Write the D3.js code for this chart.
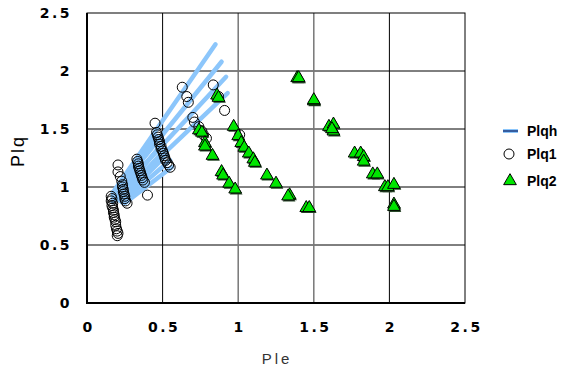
<!DOCTYPE html>
<html>
<head>
<meta charset="utf-8">
<script src="https://d3js.org/d3.v7.min.js"></script>
<style>
  body { margin: 0; background: #fff; }
  .tick-label { font-family: "DejaVu Sans", sans-serif; font-weight: bold; font-size: 14px; letter-spacing: 2.5px; fill: #000; }
  .legend-label { font-family: "Liberation Sans", Arial, sans-serif; font-weight: bold; font-size: 14px; fill: #000; }
</style>
</head>
<body>
<div id="chart"></div>
<script>
// axis ticks
var xTicks = [0, 0.5, 1, 1.5, 2, 2.5];
var yTicks = [0, 0.5, 1, 1.5, 2, 2.5];

// Plqh: fan of lines, each [start, end]
var plqhLines = [
  [[0.17, 0.95], [0.85, 2.23]],
  [[0.17, 0.92], [0.89, 2.08]],
  [[0.17, 0.90], [0.92, 1.95]],
  [[0.17, 0.87], [0.93, 1.81]],
  [[0.18, 0.93], [0.46, 1.44]],
  [[0.20, 0.90], [0.50, 1.38]],
  [[0.21, 0.89], [0.52, 1.33]],
  [[0.22, 0.88], [0.53, 1.28]],
  [[0.23, 0.87], [0.55, 1.23]],
  [[0.25, 0.86], [0.56, 1.17]]
];

// Plq1 circles
var plq1X = [0.16,0.165,0.16,0.17,0.165,0.17,0.175,0.175,0.18,0.18,0.185,0.19,0.19,0.195,0.2,0.205,0.2,
  0.205,0.205,0.22,0.23,0.235,0.235,0.24,0.24,0.245,0.25,0.25,0.255,0.265,
  0.33,0.335,0.34,0.34,0.345,0.35,0.355,0.36,0.365,0.37,0.38,0.40,
  0.45,0.46,0.465,0.47,0.475,0.48,0.48,0.49,0.49,0.5,0.505,0.51,0.515,0.52,0.53,0.54,0.55,
  0.63,0.66,0.67,0.70,0.71,0.74,0.76,0.77,0.79,0.835,0.87,0.91,1.01];
var plq1Y = [0.92,0.90,0.88,0.86,0.84,0.82,0.80,0.78,0.76,0.74,0.72,0.70,0.67,0.64,0.62,0.60,0.58,
  1.19,1.13,1.09,1.05,1.02,1.0,0.98,0.96,0.94,0.92,0.90,0.88,0.86,
  1.24,1.22,1.2,1.18,1.16,1.14,1.12,1.10,1.08,1.06,1.04,0.93,
  1.55,1.47,1.45,1.43,1.41,1.39,1.37,1.35,1.33,1.31,1.29,1.27,1.25,1.23,1.21,1.19,1.17,
  1.86,1.78,1.73,1.60,1.56,1.52,1.48,1.45,1.42,1.88,1.78,1.66,1.45];

// Plq2 triangles
var plq2X = [0.86,0.87,0.74,0.76,0.78,0.78,0.83,0.89,0.90,0.94,0.98,
  0.97,1.0,1.02,1.04,1.07,1.10,1.11,1.19,1.25,1.34,1.33,1.45,1.47,
  1.39,1.40,1.50,1.50,1.60,1.63,1.63,1.62,1.77,1.81,1.83,1.83,1.89,1.92,1.97,1.99,2.03,2.03,2.03];
var plq2Y = [1.79,1.77,1.49,1.47,1.38,1.35,1.27,1.13,1.10,1.03,0.98,
  1.52,1.44,1.38,1.34,1.29,1.24,1.21,1.10,1.03,0.93,0.92,0.82,0.82,
  1.94,1.94,1.74,1.75,1.52,1.54,1.48,1.50,1.29,1.29,1.26,1.22,1.11,1.11,1.00,1.0,1.02,0.85,0.83];

var width = 567, height = 370;
var plotLeft = 87, plotRight = 465, plotTop = 13, plotBottom = 303;

var svg = d3.select("#chart").append("svg")
    .attr("width", width)
    .attr("height", height);

var x = d3.scaleLinear().domain([0, 2.5]).range([plotLeft, plotRight]);
var y = d3.scaleLinear().domain([0, 2.5]).range([plotBottom, plotTop]);

// gridlines
svg.selectAll(".hgrid").data(yTicks.slice(1, 5)).enter().append("line")
    .attr("x1", plotLeft).attr("x2", plotRight)
    .attr("y1", d => y(d)).attr("y2", d => y(d))
    .attr("stroke", "#000").attr("stroke-width", 1);
svg.selectAll(".vgrid").data(xTicks.slice(1, 5)).enter().append("line")
    .attr("x1", d => x(d)).attr("x2", d => x(d))
    .attr("y1", plotTop).attr("y2", plotBottom)
    .attr("stroke", d => (d == 1 || d == 1.5) ? "#777" : "#000")
    .attr("stroke-width", d => (d == 1 || d == 1.5) ? 1.5 : 1);

// frame
svg.append("rect")
    .attr("x", plotLeft).attr("y", plotTop)
    .attr("width", plotRight - plotLeft).attr("height", plotBottom - plotTop)
    .attr("fill", "none").attr("stroke", "#000").attr("stroke-width", 1);
svg.append("path")
    .attr("d", "M" + plotLeft + "," + plotTop + "V" + plotBottom + "H" + plotRight)
    .attr("fill", "none").attr("stroke", "#000").attr("stroke-width", 2);

// tick labels
svg.selectAll(".ylab").data(yTicks).enter().append("text")
    .attr("class", "tick-label")
    .attr("x", 72).attr("y", d => y(d) + 5)
    .attr("text-anchor", "end")
    .text(d => d);
svg.selectAll(".xlab").data(xTicks).enter().append("text")
    .attr("class", "tick-label")
    .attr("x", d => x(d) + 1.5).attr("y", 332)
    .attr("text-anchor", "middle")
    .text(d => d);

// axis titles
svg.append("text")
    .attr("transform", "translate(24,151) rotate(-90)")
    .attr("text-anchor", "middle")
    .style("font-family", "Liberation Sans, Arial, sans-serif")
    .style("font-size", "18px")
    .style("letter-spacing", "2px")
    .text("Plq");
svg.append("text")
    .attr("x", 277).attr("y", 364)
    .attr("text-anchor", "middle")
    .style("font-family", "Liberation Sans, Arial, sans-serif")
    .style("font-size", "15px")
    .style("letter-spacing", "3px")
    .style("fill", "#333")
    .text("Ple");

// Plqh lines
var line = d3.line().x(d => x(d[0])).y(d => y(d[1]));
svg.selectAll(".plqh").data(plqhLines).enter().append("path")
    .attr("d", line)
    .attr("fill", "none")
    .attr("stroke", "#8cc6fb")
    .attr("stroke-width", 4.5)
    .attr("stroke-linecap", "round");

// Plq1 circles
svg.selectAll(".plq1").data(plq1X).enter().append("circle")
    .attr("cx", d => x(d))
    .attr("cy", (d, i) => y(plq1Y[i]))
    .attr("r", 5)
    .attr("fill", "none")
    .attr("stroke", "#000")
    .attr("stroke-width", 1);

// Plq2 triangles (with a dark shadow)
var tri = d3.symbol().type(d3.symbolTriangle).size(70);
svg.selectAll(".plq2s").data(plq2X).enter().append("path")
    .attr("d", tri)
    .attr("transform", (d, i) => "translate(" + (x(d) + 1) + "," + (y(plq2Y[i]) + 1.5) + ")")
    .attr("fill", "#2a4a2a");
svg.selectAll(".plq2").data(plq2X).enter().append("path")
    .attr("d", tri)
    .attr("transform", (d, i) => "translate(" + x(d) + "," + y(plq2Y[i]) + ")")
    .attr("fill", "#00e600")
    .attr("stroke", "#000")
    .attr("stroke-width", 1);

// legend
var lg = svg.append("g");
lg.append("line").attr("x1", 503).attr("x2", 518).attr("y1", 131).attr("y2", 131)
    .attr("stroke", "#8cc6fb").attr("stroke-width", 4);
lg.append("line").attr("x1", 503).attr("x2", 518).attr("y1", 131).attr("y2", 131)
    .attr("stroke", "#1a3a80").attr("stroke-width", 1.5);
lg.append("text").attr("class", "legend-label").attr("x", 527).attr("y", 136).text("Plqh");
lg.append("circle").attr("cx", 509).attr("cy", 154).attr("r", 5)
    .attr("fill", "none").attr("stroke", "#000");
lg.append("text").attr("class", "legend-label").attr("x", 527).attr("y", 159).text("Plq1");
lg.append("path").attr("d", tri).attr("transform", "translate(510,181)")
    .attr("fill", "#00e600").attr("stroke", "#000");
lg.append("text").attr("class", "legend-label").attr("x", 527).attr("y", 186).text("Plq2");
</script>
</body>
</html>
